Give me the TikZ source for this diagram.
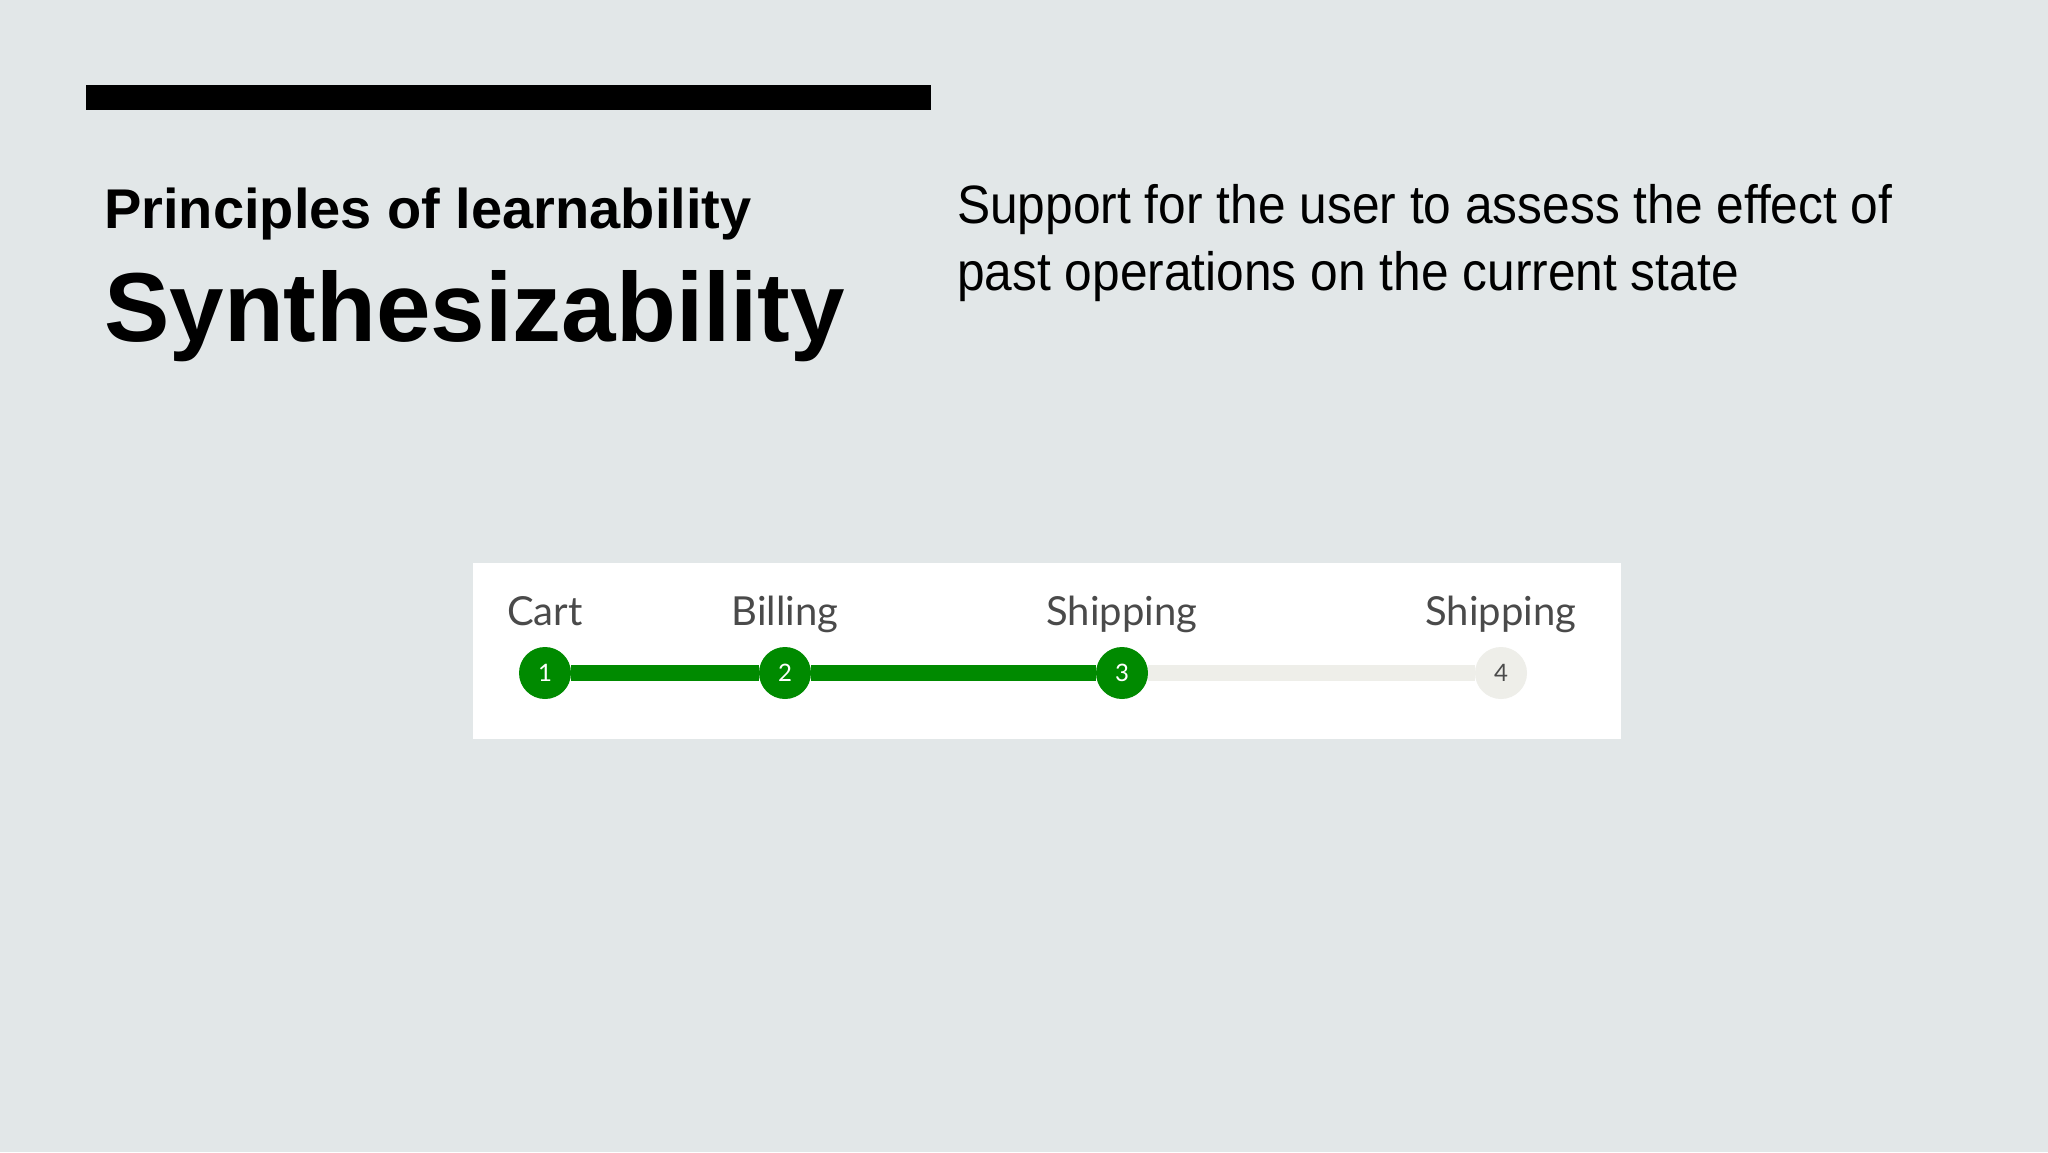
\documentclass[tikz,border=0pt]{standalone}
\usepackage{fontspec}
\setmainfont{Liberation Sans}
\newfontfamily\bodyfont{Liberation Sans}[FakeStretch=0.92]
\newfontfamily\stepfont{Lato}
\usetikzlibrary{positioning}
\definecolor{slidebg}{HTML}{E2E7E8}
\definecolor{stepgreen}{HTML}{008A00}
\definecolor{stepgray}{HTML}{EEEEE9}
\definecolor{labelgray}{HTML}{4A4A4A}

\begin{document}
\begin{tikzpicture}[x=1pt,y=-1pt,
		heading/.style ={anchor=base west, inner sep=0pt,
			font=\bfseries\fontsize{56}{64}\selectfont},
		bigtitle/.style ={anchor=base west, inner sep=0pt,
			font=\bfseries\fontsize{98}{110}\selectfont},
		descline/.style ={anchor=base west, inner sep=0pt,
			font=\bodyfont\fontsize{54}{64}\selectfont},
		donestep/.style ={circle, fill=stepgreen, text=white, inner sep=0pt,
			minimum size=52pt, font=\stepfont\fontsize{24}{28}\selectfont},
		todostep/.style ={circle, fill=stepgray, text=labelgray, inner sep=0pt,
			minimum size=52pt, font=\stepfont\fontsize{24}{28}\selectfont},
		steplabel/.style ={inner sep=0pt, text=labelgray, text depth=0.25em,
			font=\stepfont\fontsize{40}{46}\selectfont},
		donebar/.style ={draw=stepgreen, line width=16pt},
		todobar/.style ={draw=stepgray, line width=16pt}]
	% slide background
	\fill[slidebg] (0,0) rectangle (2048,1152);
	\useasboundingbox (0,0) rectangle (2048,1152);
	\fill[black] (86,85) rectangle (931,110);
	% titles
	\node [heading] (subtitle) at (104,228) {Principles of learnability};
	\node [bigtitle] (title) at (104,341) {Synthesizability};
	% description
	\node [descline] (descone) at (957,223) {Support for the user to assess the effect of};
	\node [descline] (desctwo) at (957,290) {past operations on the current state};
	% progress panel
	\fill[white] (473,563) rectangle (1621,739);
	\node [donestep] (s1) at (545,673) {1};
	\node [donestep] (s2) at (785,673) {2};
	\node [donestep] (s3) at (1122,673) {3};
	\node [todostep] (s4) at (1501,673) {4};
	\node [steplabel, above=19pt of s1] (l1) {Cart};
	\node [steplabel, above=19pt of s2] (l2) {Billing};
	\node [steplabel, above=19pt of s3] (l3) {Shipping};
	\node [steplabel, above=19pt of s4] (l4) {Shipping};
	% bars between steps
	\path [donebar] (s1) -- (s2);
	\path [donebar] (s2) -- (s3);
	\path [todobar] (s3) -- (s4);
\end{tikzpicture}
\end{document}
